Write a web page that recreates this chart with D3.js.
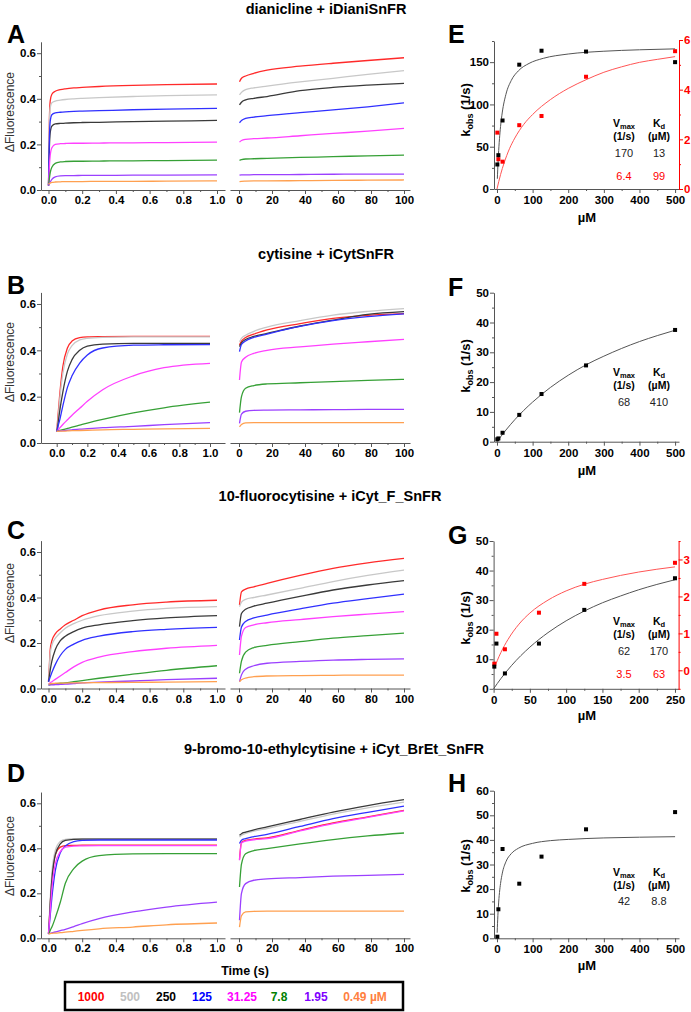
<!DOCTYPE html>
<html><head><meta charset="utf-8">
<script src="https://cdn.jsdelivr.net/npm/d3@7"></script>
<style>body{margin:0;background:#fff} svg{display:block} text{font-family:"Liberation Sans",Arial,sans-serif}</style>
</head><body><svg id="c" width="691" height="1012"></svg>
<script>
// ---------------- DATA ----------------
const concLabels = ["1000","500","250","125","31.25","7.8","1.95","0.49 \u00b5M"];
const legendColors = ["#ff0000","#c0c0c0","#000000","#0000ff","#ff00ff","#008000","#8000ff","#ff8040"];
const traceColors = ["#ff2a2a","#c8c8c8","#3a3a3a","#3030ff","#ff40ff","#36a036","#9b40ff","#ffa050"];
const panelTitles = ["dianicline + iDianiSnFR","cytisine + iCytSnFR","10-fluorocytisine + iCyt_F_SnFR","9-bromo-10-ethylcytisine + iCyt_BrEt_SnFR"];
const tFast = [0,0.005,0.01,0.02,0.04,0.07,0.1,0.15,0.2,0.3,0.5,0.7,1.0];
const tSlow = [0.3,1.5,4,9,17,37,57,78,100];
const fastTicks = [0,0.2,0.4,0.6,0.8,1.0];
const slowTicks = [0,20,40,60,80,100];
const fluorTicks = [0,0.2,0.4,0.6];

const A_fast = [
 [0.02,0.3,0.39,0.42,0.433,0.44,0.444,0.448,0.45,0.454,0.459,0.462,0.465],
 [0.02,0.28,0.36,0.383,0.39,0.394,0.397,0.4,0.402,0.405,0.41,0.414,0.417],
 [0.02,0.18,0.25,0.28,0.29,0.292,0.293,0.295,0.296,0.297,0.3,0.302,0.305],
 [0.02,0.22,0.3,0.33,0.338,0.341,0.343,0.345,0.346,0.348,0.352,0.355,0.358],
 [0.02,0.1,0.15,0.185,0.2,0.203,0.204,0.205,0.205,0.206,0.207,0.208,0.21],
 [0.02,0.05,0.075,0.1,0.117,0.123,0.125,0.126,0.126,0.127,0.128,0.129,0.131],
 [0.02,0.028,0.035,0.047,0.058,0.062,0.063,0.063,0.064,0.064,0.065,0.065,0.066],
 [0.025,0.028,0.03,0.033,0.035,0.036,0.037,0.037,0.037,0.038,0.038,0.039,0.04]];
const A_slow = [
 [0.475,0.49,0.5,0.512,0.526,0.543,0.556,0.568,0.58],
 [0.417,0.428,0.44,0.448,0.456,0.474,0.49,0.507,0.524],
 [0.373,0.385,0.395,0.402,0.41,0.436,0.45,0.46,0.468],
 [0.295,0.305,0.314,0.32,0.326,0.339,0.351,0.365,0.382],
 [0.21,0.217,0.222,0.225,0.228,0.238,0.248,0.258,0.27],
 [0.13,0.133,0.136,0.137,0.139,0.143,0.146,0.15,0.153],
 [0.065,0.066,0.066,0.067,0.067,0.068,0.069,0.07,0.07],
 [0.037,0.038,0.039,0.04,0.04,0.041,0.042,0.043,0.044]];
const B_fast = [
 [0.05,0.09,0.13,0.21,0.33,0.41,0.44,0.455,0.458,0.459,0.46,0.46,0.46],
 [0.05,0.08,0.11,0.19,0.3,0.385,0.42,0.445,0.452,0.456,0.458,0.458,0.458],
 [0.05,0.065,0.09,0.14,0.22,0.31,0.36,0.4,0.418,0.427,0.43,0.43,0.43],
 [0.05,0.06,0.075,0.1,0.16,0.24,0.29,0.345,0.38,0.41,0.422,0.424,0.425],
 [0.05,0.053,0.057,0.065,0.08,0.1,0.12,0.15,0.18,0.23,0.29,0.325,0.344],
 [0.05,0.051,0.052,0.054,0.058,0.063,0.068,0.077,0.086,0.102,0.13,0.152,0.176],
 [0.05,0.05,0.051,0.052,0.053,0.055,0.057,0.06,0.062,0.066,0.072,0.079,0.088],
 [0.05,0.05,0.05,0.051,0.051,0.052,0.053,0.054,0.055,0.057,0.059,0.061,0.063]];
const B_slow = [
 [0.423,0.44,0.455,0.47,0.488,0.515,0.538,0.551,0.558],
 [0.437,0.452,0.465,0.482,0.5,0.528,0.552,0.568,0.58],
 [0.416,0.432,0.447,0.46,0.473,0.505,0.53,0.555,0.567],
 [0.394,0.425,0.44,0.456,0.47,0.503,0.528,0.545,0.557],
 [0.272,0.35,0.37,0.387,0.4,0.415,0.427,0.437,0.447],
 [0.131,0.2,0.236,0.248,0.255,0.26,0.265,0.27,0.275],
 [0.085,0.125,0.137,0.141,0.142,0.143,0.144,0.145,0.145],
 [0.07,0.08,0.087,0.088,0.088,0.088,0.088,0.088,0.088]];
const C_fast = [
 [0.03,0.1,0.17,0.21,0.24,0.262,0.28,0.3,0.32,0.345,0.368,0.38,0.388],
 [0.03,0.09,0.15,0.19,0.22,0.245,0.265,0.285,0.3,0.32,0.34,0.352,0.36],
 [0.03,0.055,0.08,0.12,0.17,0.21,0.23,0.25,0.265,0.28,0.298,0.31,0.32],
 [0.03,0.04,0.05,0.07,0.105,0.145,0.172,0.195,0.212,0.23,0.25,0.26,0.269],
 [0.02,0.022,0.025,0.03,0.04,0.055,0.07,0.095,0.115,0.138,0.162,0.177,0.19],
 [0.015,0.016,0.017,0.018,0.02,0.023,0.025,0.03,0.035,0.045,0.063,0.08,0.1],
 [0.015,0.015,0.016,0.016,0.017,0.018,0.019,0.022,0.025,0.028,0.033,0.039,0.045],
 [0.02,0.02,0.021,0.022,0.023,0.024,0.024,0.025,0.025,0.026,0.027,0.028,0.03]];
const C_slow = [
 [0.367,0.425,0.437,0.447,0.462,0.497,0.528,0.552,0.572],
 [0.36,0.38,0.392,0.4,0.411,0.44,0.47,0.497,0.52],
 [0.272,0.33,0.348,0.362,0.375,0.405,0.433,0.455,0.474],
 [0.213,0.27,0.295,0.31,0.323,0.35,0.375,0.395,0.415],
 [0.147,0.23,0.268,0.28,0.289,0.303,0.316,0.327,0.338],
 [0.067,0.12,0.16,0.18,0.19,0.206,0.221,0.232,0.243],
 [0.03,0.06,0.085,0.1,0.111,0.119,0.125,0.128,0.13],
 [0.03,0.038,0.046,0.052,0.055,0.057,0.058,0.059,0.059]];
const D_fast = [
 [0.02,0.08,0.15,0.26,0.37,0.405,0.412,0.413,0.414,0.414,0.414,0.414,0.414],
 [0.02,0.1,0.17,0.29,0.39,0.43,0.44,0.443,0.443,0.443,0.443,0.443,0.443],
 [0.02,0.08,0.15,0.26,0.37,0.42,0.435,0.44,0.441,0.441,0.441,0.441,0.441],
 [0.02,0.06,0.1,0.18,0.3,0.38,0.41,0.43,0.435,0.437,0.437,0.437,0.437],
 [0.02,0.07,0.12,0.22,0.33,0.385,0.405,0.41,0.411,0.412,0.412,0.412,0.412],
 [0.02,0.025,0.035,0.05,0.09,0.16,0.245,0.31,0.343,0.367,0.375,0.376,0.376],
 [0.02,0.021,0.022,0.024,0.028,0.034,0.04,0.052,0.065,0.087,0.117,0.139,0.161],
 [0.02,0.02,0.021,0.022,0.023,0.025,0.027,0.031,0.035,0.042,0.05,0.06,0.068]];
const D_slow = [
 [0.35,0.426,0.435,0.441,0.446,0.48,0.513,0.54,0.569],
 [0.45,0.458,0.466,0.476,0.488,0.52,0.552,0.58,0.605],
 [0.458,0.465,0.472,0.482,0.495,0.528,0.561,0.59,0.616],
 [0.421,0.436,0.443,0.452,0.462,0.497,0.532,0.56,0.587],
 [0.347,0.424,0.432,0.438,0.443,0.477,0.51,0.537,0.566],
 [0.228,0.33,0.376,0.39,0.399,0.42,0.439,0.455,0.468],
 [0.08,0.2,0.243,0.258,0.264,0.27,0.276,0.28,0.284],
 [0.05,0.1,0.117,0.12,0.121,0.121,0.121,0.121,0.121]];

// k_obs vs concentration (µM)
const kConc = [0.98,3.9,15.6,62.5,125,250,500];
const kConcG = [0.98,3.9,15.6,62.5,125,250];
const E_black = [29,40,81,147,163.5,162.5,150];
const E_red = [2.27,1.2,1.1,2.57,2.94,4.52,5.55];
const F_black = [0.8,1.1,3.0,9.0,16.0,25.6,37.5];
const G_black = [7.5,15.3,5.2,15.3,26.7,37.4];
const G_red = [0.18,0.99,0.57,1.56,2.34,2.91];
const H_black = [0.65,11.8,36.3,22.2,33.2,44.3,51.3];
// fit curves [µM, k_obs]
const E_fitBlack = [[1,12.1],[2,22.7],[4,40],[7,59.5],[10,73.9],[15,91],[25,111.8],[40,128.3],[60,139.7],[90,148.5],[130,154.5],[200,159.6],[300,162.9],[400,164.6],[500,165.7]];
const E_fitRed = [[0,0],[5,0.3],[10,0.58],[20,1.05],[35,1.62],[50,2.05],[75,2.6],[100,3.0],[150,3.6],[200,4.05],[250,4.4],[300,4.7],[350,4.92],[400,5.1],[450,5.22],[500,5.33]];
const F_fit = [[0,0],[10,1.62],[25,3.9],[50,7.39],[75,10.5],[100,13.3],[150,18.2],[200,22.3],[250,25.8],[300,28.7],[350,31.3],[400,33.6],[450,35.6],[500,37.4]];
const G_fitBlack = [[0,0],[10,3.44],[25,7.95],[50,14.1],[75,19.0],[100,23.0],[125,26.3],[150,29.1],[175,31.4],[200,33.5],[225,35.3],[250,36.9]];
const G_fitRed = [[1,0.05],[5,0.26],[10,0.48],[20,0.84],[35,1.25],[50,1.55],[75,1.9],[100,2.15],[125,2.33],[150,2.46],[200,2.66],[250,2.8]];
const H_fit = [[0.5,2.26],[1,4.29],[2,7.78],[4,13.1],[7,18.6],[10,22.3],[15,26.5],[25,31.1],[40,34.4],[60,36.6],[100,38.6],[150,39.7],[200,40.2],[300,40.8],[400,41.1],[500,41.3]];
const E_table = ["170","13"], E_tableRed = ["6.4","99"];
const F_table = ["68","410"];
const G_table = ["62","170"], G_tableRed = ["3.5","63"];
const H_table = ["42","8.8"];

// ---------------- DRAW ----------------
const svg = d3.select("#c");
const FONT = '"Liberation Sans",Arial,sans-serif';
const AX = "#555";

function styleAxis(g, fs){
  g.select(".domain").attr("stroke", AX).attr("stroke-width",1);
  g.selectAll(".tick line").attr("stroke", AX);
  g.selectAll(".tick text").attr("font-size", fs).attr("font-weight","bold").attr("font-family",FONT).attr("fill","#000");
}
function makeAxis(parent, gen, scale, ticks, minor, fmt, tx, ty, fs, pad, color){
  const g = parent.append("g").attr("transform",`translate(${tx},${ty})`);
  g.call(gen(scale).tickValues(ticks).tickFormat(fmt).tickSizeInner(4).tickSizeOuter(0).tickPadding(pad));
  styleAxis(g, fs);
  if (minor && minor.length){
    const m = parent.append("g").attr("transform",`translate(${tx},${ty})`);
    m.call(gen(scale).tickValues(minor).tickFormat("").tickSizeInner(2).tickSizeOuter(0));
    m.select(".domain").remove();
    m.selectAll(".tick line").attr("stroke", color||AX);
  }
  if (color){
    g.select(".domain").attr("stroke", color);
    g.selectAll(".tick line").attr("stroke", color);
    g.selectAll(".tick text").attr("fill", color);
  }
  return g;
}

const rows = [
 {fast:A_fast, slow:A_slow, y0:190, ppu:228, xl0:48.5, xl1:217, tx:326, ty:14, ly:43, yl:112},
 {fast:B_fast, slow:B_slow, y0:443, ppu:231.7, xl0:56.7, xl1:210, tx:326, ty:259, ly:294, yl:362},
 {fast:C_fast, slow:C_slow, y0:688.5, ppu:227.5, xl0:48.5, xl1:217, tx:330, ty:501, ly:539, yl:603},
 {fast:D_fast, slow:D_slow, y0:938.3, ppu:225, xl0:48.5, xl1:217, tx:334, ty:754, ly:782, yl:856}
];
const letters = ["A","B","C","D"];

rows.forEach((r,i)=>{
  const y = d3.scaleLinear().domain([0,0.65]).range([r.y0, r.y0-0.65*r.ppu]);
  const k = r.xl1 - r.xl0;
  const xF = d3.scaleLinear().domain([(41-r.xl0)/k,(225-r.xl0)/k]).range([41,225]);
  const xS = d3.scaleLinear().domain([(230-239)/1.65,(410-239)/1.65]).range([230,410]);
  svg.append("text").attr("x",r.tx).attr("y",r.ty).attr("text-anchor","middle")
    .attr("font-size",14.5).attr("font-weight","bold").text(panelTitles[i]);
  svg.append("text").attr("x",7).attr("y",r.ly).attr("font-size",25).attr("font-weight","bold").text(letters[i]);
  svg.append("text").attr("transform",`translate(14,${r.yl}) rotate(-90)`).attr("text-anchor","middle")
    .attr("font-size",12).attr("fill","#333").text("\u0394Fluorescence");
  makeAxis(svg, d3.axisLeft, y, fluorTicks, [0.1,0.3,0.5], d3.format(".1f"), 41, 0, 11.5, 1);
  makeAxis(svg, d3.axisBottom, xF, fastTicks, [0.1,0.3,0.5,0.7,0.9], d3.format(".1f"), 0, r.y0, 11.5, 2);
  makeAxis(svg, d3.axisBottom, xS, slowTicks, [10,30,50,70,90], d3.format("d"), 0, r.y0, 11.5, 2);
  const lf = d3.line().x((d,j)=>xF(tFast[j])).y(d=>y(d)).curve(d3.curveMonotoneX);
  const ls = d3.line().x((d,j)=>xS(tSlow[j])).y(d=>y(d)).curve(d3.curveMonotoneX);
  r.fast.forEach((s,c)=>svg.append("path").attr("d",lf(s)).attr("fill","none").attr("stroke",traceColors[c]).attr("stroke-width",1.3));
  r.slow.forEach((s,c)=>svg.append("path").attr("d",ls(s)).attr("fill","none").attr("stroke",traceColors[c]).attr("stroke-width",1.3));
});
svg.append("text").attr("x",245).attr("y",975).attr("text-anchor","middle").attr("font-size",12.5).attr("font-weight","bold").text("Time (s)");

// legend
svg.append("rect").attr("x",65).attr("y",982).attr("width",338).attr("height",28).attr("fill","none").attr("stroke","#000").attr("stroke-width",2.5);
const legX = [91,130,166,202,242,279,316,365];
concLabels.forEach((l,i)=>svg.append("text").attr("x",legX[i]).attr("y",1000.5).attr("text-anchor","middle")
  .attr("font-size",12).attr("font-weight","bold").attr("fill",legendColors[i]).text(l));

// k_obs panels
const kPanels = [
 {L:"E", ly:43, xd:[-8.4,511], xr:[494,679], xt:[0,100,200,300,400,500], xm:[50,150,250,350,450],
  yd:[0,175], yr:[189,41], yt:[0,50,100,150], ym:[25,75,125,175],
  red:{d:[0,6], r:[189,40], t:[0,2,4,6], m:[1,3,5]}, mu:222, ky:110, tb:[127,140,157,180],
  conc:kConc, black:E_black, redPts:E_red, fitB:E_fitBlack, fitR:E_fitRed, tab:E_table, tabR:E_tableRed},
 {L:"F", ly:296, xd:[-8.4,511], xr:[494,679], xt:[0,100,200,300,400,500], xm:[50,150,250,350,450],
  yd:[0,50], yr:[441.7,292.7], yt:[0,10,20,30,40,50], ym:[5,15,25,35,45],
  mu:475, ky:366, tb:[376,389,406], conc:kConc, black:F_black, fitB:F_fit, tab:F_table},
 {L:"G", ly:544, xd:[0,255], xr:[493.6,678.6], xt:[0,50,100,150,200,250], xm:[25,75,125,175,225],
  yd:[0,50], yr:[688.8,541], yt:[0,10,20,30,40,50], ym:[5,15,25,35,45],
  red:{d:[-0.5,3.5], r:[688.8,541], t:[0,1,2,3], m:[-0.5,0.5,1.5,2.5,3.5]}, mu:720, ky:618, tb:[625,638,655,678],
  conc:kConcG, black:G_black, redPts:G_red, fitB:G_fitBlack, fitR:G_fitRed, tab:G_table, tabR:G_tableRed},
 {L:"H", ly:792, xd:[-8.4,511], xr:[494,679], xt:[0,100,200,300,400,500], xm:[50,150,250,350,450],
  yd:[0,60], yr:[938.3,790.7], yt:[0,10,20,30,40,50,60], ym:[5,15,25,35,45,55],
  mu:970, ky:866, tb:[876,889,905], conc:kConc, black:H_black, fitB:H_fit, tab:H_table}
];
kPanels.forEach(p=>{
  const x = d3.scaleLinear().domain(p.xd).range(p.xr);
  const y = d3.scaleLinear().domain(p.yd).range(p.yr);
  svg.append("text").attr("x",448).attr("y",p.ly).attr("font-size",25).attr("font-weight","bold").text(p.L);
  makeAxis(svg, d3.axisLeft, y, p.yt, p.ym, d3.format("d"), p.xr[0], 0, 11.5, 1);
  makeAxis(svg, d3.axisBottom, x, p.xt, p.xm, d3.format("d"), 0, p.yr[0], 11.5, 3);
  const kt = svg.append("text").attr("transform",`translate(469.5,${p.ky}) rotate(-90)`).attr("text-anchor","middle")
    .attr("font-size",13).attr("font-weight","bold");
  kt.append("tspan").text("k");
  kt.append("tspan").attr("font-size",9).attr("dy",3).text("obs");
  kt.append("tspan").attr("dy",-3).text(" (1/s)");
  svg.append("text").attr("x",587).attr("y",p.mu).attr("text-anchor","middle").attr("font-size",13).attr("font-weight","bold").text("\u00b5M");
  let yR = null;
  if (p.red){
    yR = d3.scaleLinear().domain(p.red.d).range(p.red.r);
    makeAxis(svg, d3.axisRight, yR, p.red.t, p.red.m, d3.format("d"), p.xr[1], 0, 11.5, 1, "#ff0000");
  }
  const line = d3.line().x(d=>x(d[0])).y(d=>y(d[1])).curve(d3.curveMonotoneX);
  svg.append("path").attr("d",line(p.fitB)).attr("fill","none").attr("stroke","#555").attr("stroke-width",1);
  if (yR){
    const lr = d3.line().x(d=>x(d[0])).y(d=>yR(d[1])).curve(d3.curveMonotoneX);
    svg.append("path").attr("d",lr(p.fitR)).attr("fill","none").attr("stroke","#ff5555").attr("stroke-width",1);
    p.redPts.forEach((v,i)=>svg.append("rect").attr("x",x(p.conc[i])-2).attr("y",yR(v)-2).attr("width",4).attr("height",4).attr("fill","#ff0000"));
  }
  p.black.forEach((v,i)=>svg.append("rect").attr("x",x(p.conc[i])-2).attr("y",y(v)-2).attr("width",4).attr("height",4).attr("fill","#000"));
  // table
  const h1 = svg.append("text").attr("x",624).attr("y",p.tb[0]).attr("text-anchor","middle").attr("font-size",10.5).attr("font-weight","bold");
  h1.append("tspan").text("V"); h1.append("tspan").attr("font-size",7.5).attr("dy",1.5).text("max");
  const h2 = svg.append("text").attr("x",659).attr("y",p.tb[0]).attr("text-anchor","middle").attr("font-size",10.5).attr("font-weight","bold");
  h2.append("tspan").text("K"); h2.append("tspan").attr("font-size",7.5).attr("dy",1.5).text("d");
  svg.append("text").attr("x",624).attr("y",p.tb[1]).attr("text-anchor","middle").attr("font-size",10.5).attr("font-weight","bold").text("(1/s)");
  svg.append("text").attr("x",659).attr("y",p.tb[1]).attr("text-anchor","middle").attr("font-size",10.5).attr("font-weight","bold").text("(\u00b5M)");
  svg.append("text").attr("x",624).attr("y",p.tb[2]).attr("text-anchor","middle").attr("font-size",11).attr("fill","#222").text(p.tab[0]);
  svg.append("text").attr("x",659).attr("y",p.tb[2]).attr("text-anchor","middle").attr("font-size",11).attr("fill","#222").text(p.tab[1]);
  if (p.tabR){
    svg.append("text").attr("x",624).attr("y",p.tb[3]).attr("text-anchor","middle").attr("font-size",11).attr("fill","#ff0000").text(p.tabR[0]);
    svg.append("text").attr("x",659).attr("y",p.tb[3]).attr("text-anchor","middle").attr("font-size",11).attr("fill","#ff0000").text(p.tabR[1]);
  }
});
</script></body></html>
